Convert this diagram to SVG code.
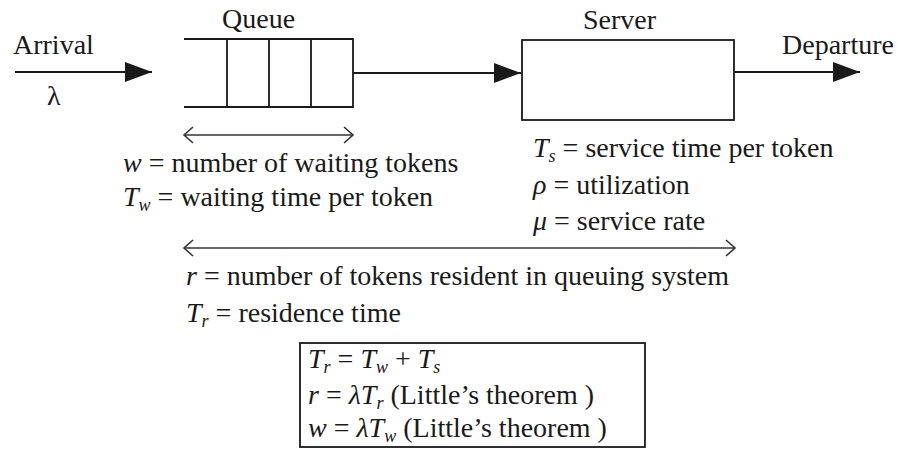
<svg xmlns="http://www.w3.org/2000/svg" width="897" height="450" viewBox="0 0 897 450">
<style>
  text { font-family: "Liberation Serif", "Times New Roman", serif; font-size: 28px; fill: #1a1a1a; }
  .i { font-style: italic; }
  .sub { font-size: 18px; font-style: italic; }
  .shape { fill: none; stroke: #1a1a1a; stroke-width: 1.8; }
  .flow { fill: none; stroke: #1a1a1a; stroke-width: 1.8; marker-end: url(#tri); }
  .span { fill: none; stroke: #333; stroke-width: 1.6; marker-start: url(#chev); marker-end: url(#chev); }
</style>
<defs>
  <marker id="tri" markerUnits="userSpaceOnUse" markerWidth="27" markerHeight="20" refX="27" refY="10" orient="auto">
    <path d="M0,0 L27,10 L0,20 z" fill="#1a1a1a"/>
  </marker>
  <marker id="chev" markerUnits="userSpaceOnUse" markerWidth="12" markerHeight="20" refX="10" refY="9" orient="auto-start-reverse">
    <path d="M1,1 L10,9 L1,17" fill="none" stroke="#333" stroke-width="1.6"/>
  </marker>
</defs>

<g id="arrival">
  <text x="13" y="54">Arrival</text>
  <text x="47" y="105">λ</text>
</g>

<g id="queue">
  <text x="222" y="28">Queue</text>
  <path class="shape" d="M184,39 H353 V107 H184 M227,39 V107 M269,39 V107 M311,39 V107"/>
</g>

<g id="server">
  <text x="583" y="29">Server</text>
  <rect class="shape" x="522" y="40" width="212" height="80"/>
</g>

<g id="departure">
  <text x="782" y="54">Departure</text>
</g>

<g id="queue-labels">
  <text x="123" y="172"><tspan class="i">w</tspan> = number of waiting tokens</text>
  <text x="123" y="206"><tspan class="i">T</tspan><tspan class="sub" dy="5">w</tspan><tspan dy="-5"> = waiting time per token</tspan></text>
</g>

<g id="server-labels">
  <text x="533" y="157"><tspan class="i">T</tspan><tspan class="sub" dy="5">s</tspan><tspan dy="-5"> = service time per token</tspan></text>
  <text x="533" y="194"><tspan class="i">ρ</tspan> = utilization</text>
  <text x="533" y="230"><tspan class="i">μ</tspan> = service rate</text>
</g>

<g id="system-labels">
  <text x="186" y="285"><tspan class="i">r</tspan> = number of tokens resident in queuing system</text>
  <text x="186" y="322"><tspan class="i">T</tspan><tspan class="sub" dy="5">r</tspan><tspan dy="-5"> = residence time</tspan></text>
</g>

<g id="formulas">
  <rect class="shape" x="300" y="343" width="345" height="104"/>
  <text x="308" y="368"><tspan class="i">T</tspan><tspan class="sub" dy="5">r</tspan><tspan dy="-5"> = </tspan><tspan class="i">T</tspan><tspan class="sub" dy="5">w</tspan><tspan dy="-5"> + </tspan><tspan class="i">T</tspan><tspan class="sub" dy="5">s</tspan></text>
  <text x="308" y="404"><tspan class="i">r</tspan> = <tspan class="i">λT</tspan><tspan class="sub" dy="5">r</tspan><tspan dy="-5"> (Little’s theorem )</tspan></text>
  <text x="308" y="437"><tspan class="i">w</tspan> = <tspan class="i">λT</tspan><tspan class="sub" dy="5">w</tspan><tspan dy="-5"> (Little’s theorem )</tspan></text>
</g>

<g id="connectors">
  <line class="flow" x1="15" y1="72" x2="152" y2="72"/>
  <line class="flow" x1="353" y1="73" x2="521" y2="73"/>
  <line class="flow" x1="734" y1="72" x2="860" y2="72"/>
  <line class="span" x1="184" y1="135" x2="353" y2="135"/>
  <line class="span" x1="184" y1="248" x2="735" y2="248"/>
</g>
</svg>
